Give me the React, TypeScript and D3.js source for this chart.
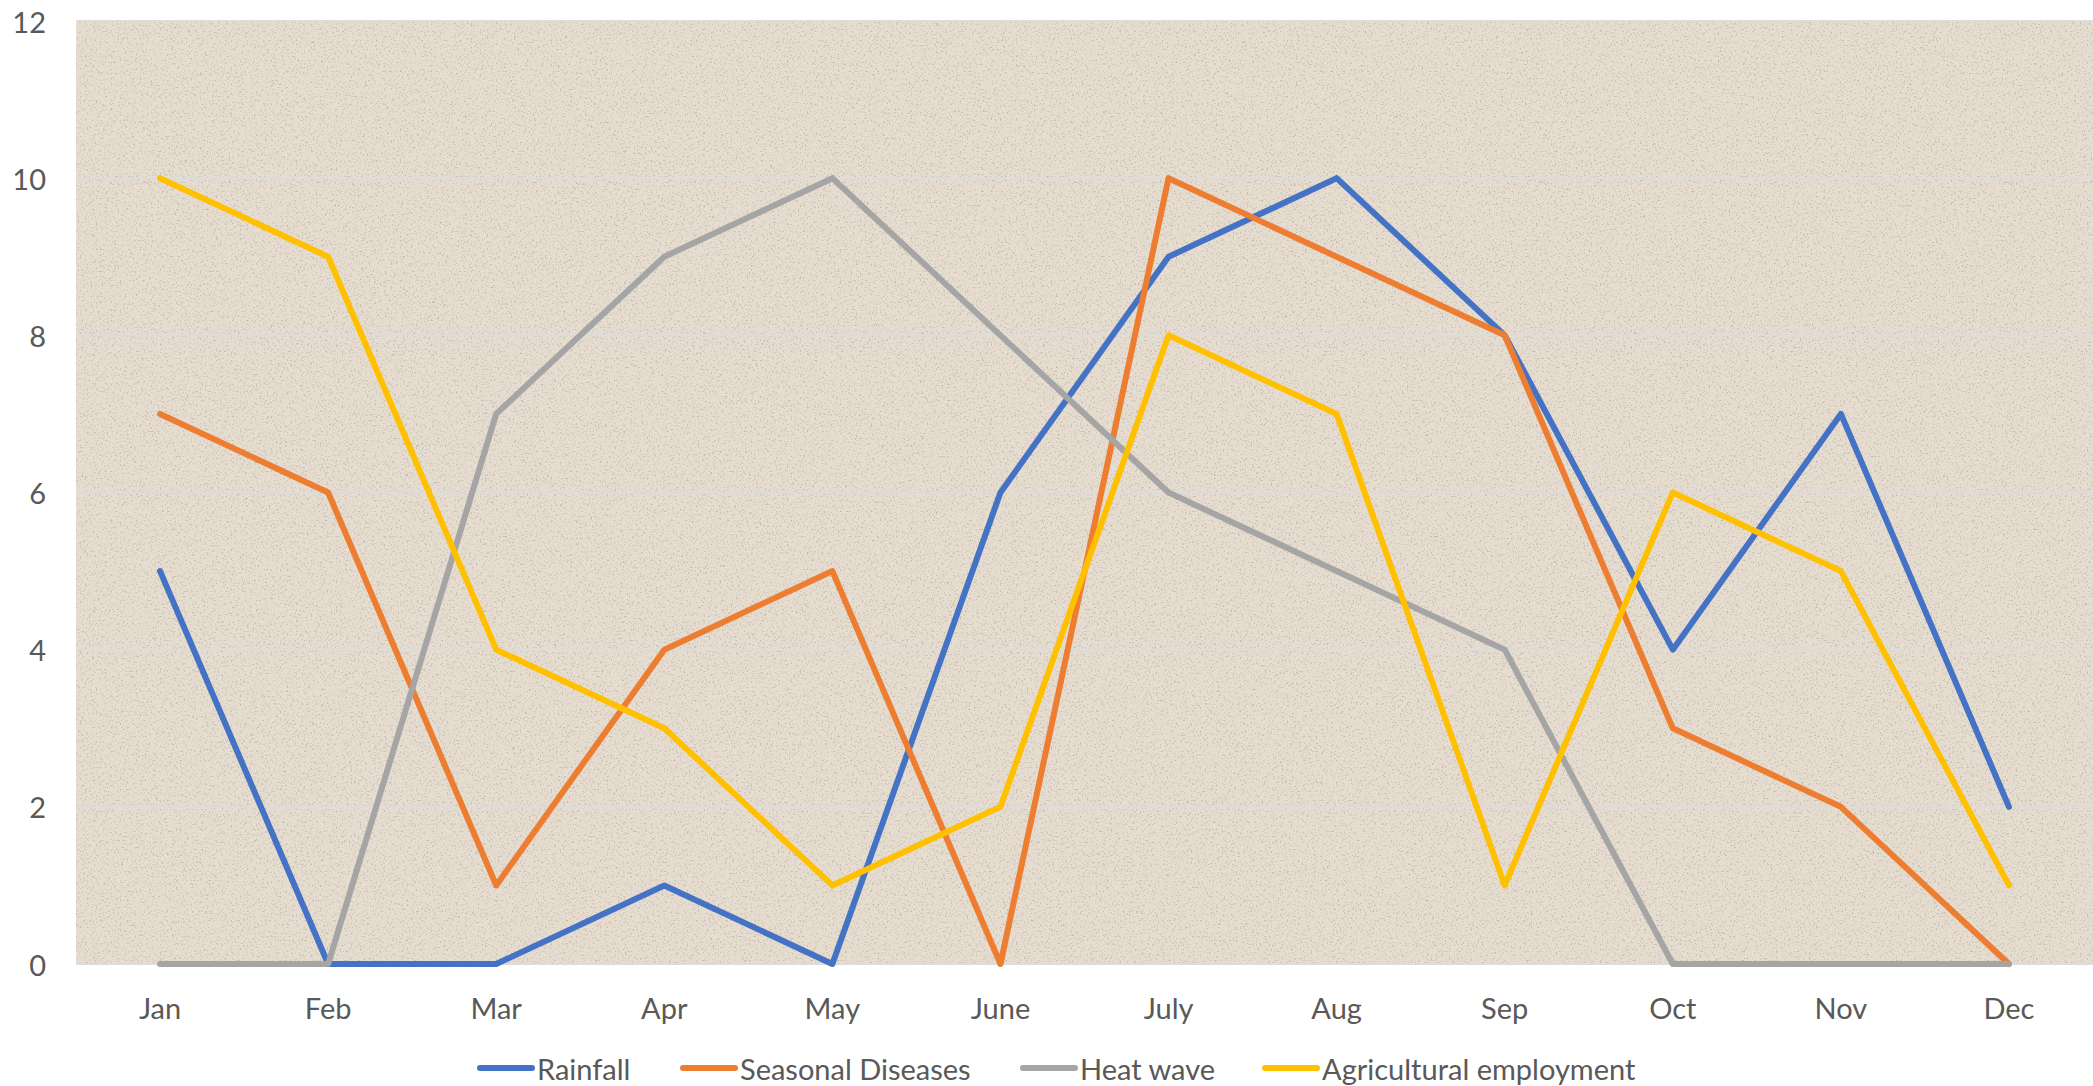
import React from 'react';
import * as d3 from 'd3';

const months = ['Jan', 'Feb', 'Mar', 'Apr', 'May', 'June', 'July', 'Aug', 'Sep', 'Oct', 'Nov', 'Dec'];
const rainfall = [5, 0, 0, 1, 0, 6, 9, 10, 8, 4, 7, 2];
const seasonalDiseases = [7, 6, 1, 4, 5, 0, 10, 9, 8, 3, 2, 0];
const heatWave = [0, 0, 7, 9, 10, 8, 6, 5, 4, 0, 0, 0];
const agriEmployment = [10, 9, 4, 3, 1, 2, 8, 7, 1, 6, 5, 1];
const yTicks = [0, 2, 4, 6, 8, 10, 12];

const seriesNames = ['Rainfall', 'Seasonal Diseases', 'Heat wave', 'Agricultural employment'];
const seriesColors = ['#4472C4', '#ED7D31', '#A5A5A5', '#FFC000'];

const W = 2093;
const H = 1086;
const plot = { left: 76, right: 2093, top: 21, bottom: 964 };
const FONT = 'Lato, "Open Sans", sans-serif';

export default function App() {
  const x = d3.scaleBand<string>().domain(months).range([plot.left, plot.right]);
  const y = d3.scaleLinear().domain([0, 12]).range([plot.bottom, plot.top]);
  const line = d3
    .line<number>()
    .x((_, i) => (x(months[i]) as number) + x.bandwidth() / 2)
    .y((d) => y(d));

  const allSeries = [rainfall, seasonalDiseases, heatWave, agriEmployment];
  // legend layout (start x of each item)
  const legendX = [478, 681, 1021, 1263];

  return (
    <svg width={W} height={H} style={{ position: 'absolute', left: 0, top: 0, display: 'block' }}>
      <defs>
        <filter id="paper" x="0" y="0" width="100%" height="100%">
          <feTurbulence type="fractalNoise" baseFrequency="0.55" numOctaves="3" seed="7" result="noise" />
          <feColorMatrix
            in="noise"
            type="matrix"
            values="0 0 0 0 0.42  0 0 0 0 0.38  0 0 0 0 0.32  5.5 0 0 0 -3.1"
          />
        </filter>
      </defs>
      <rect x={0} y={0} width={W} height={H} fill="#ffffff" />
      <rect
        x={plot.left}
        y={plot.top}
        width={plot.right - plot.left}
        height={plot.bottom - plot.top}
        fill="#e6ddd0"
      />
      <rect
        x={plot.left}
        y={plot.top}
        width={plot.right - plot.left}
        height={plot.bottom - plot.top}
        filter="url(#paper)"
        opacity={0.55}
      />
      {yTicks.map((t) => (
        <g key={t}>
          <line x1={plot.left} x2={plot.right} y1={y(t)} y2={y(t)} stroke="#dcdcdc" strokeWidth={2} />
          <text
            x={46}
            y={y(t)}
            textAnchor="end"
            dominantBaseline="central"
            fontFamily={FONT}
            fontSize={29}
            fill="#595959"
          >
            {t}
          </text>
        </g>
      ))}
      {months.map((m) => (
        <text
          key={m}
          x={(x(m) as number) + x.bandwidth() / 2}
          y={1007}
          textAnchor="middle"
          dominantBaseline="central"
          fontFamily={FONT}
          fontSize={29}
          fill="#595959"
        >
          {m}
        </text>
      ))}
      {allSeries.map((s, i) => (
        <path
          key={seriesNames[i]}
          d={line(s) as string}
          fill="none"
          stroke={seriesColors[i]}
          strokeWidth={6}
          strokeLinejoin="round"
          strokeLinecap="round"
        />
      ))}
      {seriesNames.map((n, i) => (
        <g key={n} transform={`translate(${legendX[i]},1068)`}>
          <line x1={2} x2={54} y1={0} y2={0} stroke={seriesColors[i]} strokeWidth={6} strokeLinecap="round" />
          <text x={59} y={0} dominantBaseline="central" fontFamily={FONT} fontSize={29} fill="#595959">
            {n}
          </text>
        </g>
      ))}
    </svg>
  );
}
